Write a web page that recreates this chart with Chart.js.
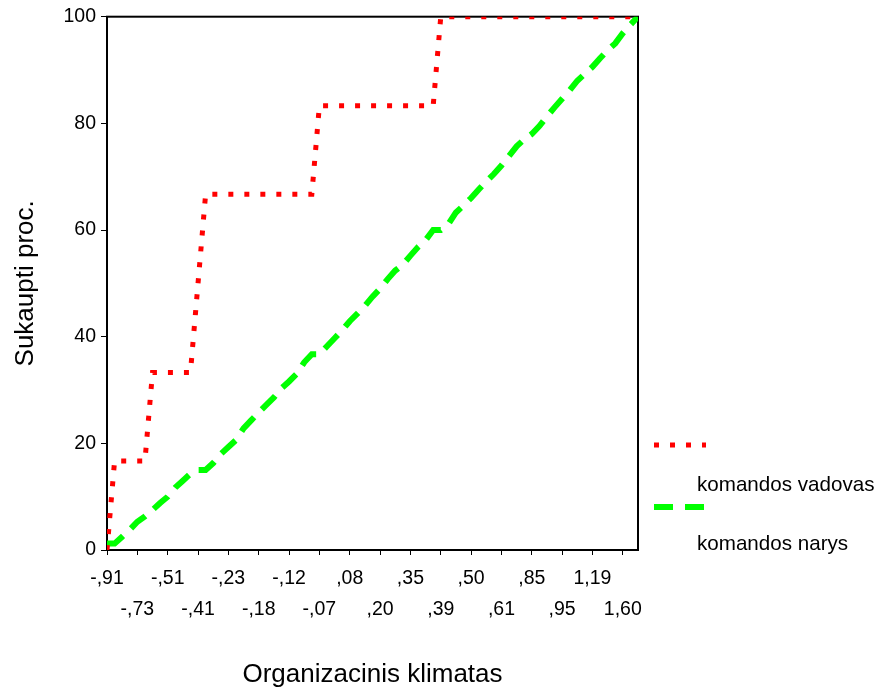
<!DOCTYPE html>
<html>
<head>
<meta charset="utf-8">
<script src="https://cdn.jsdelivr.net/npm/chart.js@4"></script>
<style>
    html, body { margin: 0; padding: 0; background: #fff; }
    #wrap { width: 879px; height: 691px; }
</style>
</head>
<body>
<div id="wrap"><canvas id="cumChart" width="879" height="691"></canvas></div>
<script>
// x axis tick labels (every 4th category is labelled)
const tickLabels = ['-,91', '-,73', '-,51', '-,41', '-,23', '-,18', '-,12', '-,07', ',08',
    ',20', ',35', ',39', ',50', ',61', ',85', ',95', '1,19', '1,60'];
const labelStep = 4;

const seriesNames = ['komandos vadovas', 'komandos narys'];

// cumulative percent per category position (0..70)
const leaders = [0, 16.7, 16.7, 16.7, 16.7, 16.7, 33.3, 33.3, 33.3, 33.3,
    33.3, 33.3, 50, 66.7, 66.7, 66.7, 66.7, 66.7, 66.7, 66.7,
    66.7, 66.7, 66.7, 66.7, 66.7, 66.7, 66.7, 66.7, 83.3, 83.3,
    83.3, 83.3, 83.3, 83.3, 83.3, 83.3, 83.3, 83.3, 83.3, 83.3,
    83.3, 83.3, 83.3, 83.3, 100, 100, 100, 100, 100, 100,
    100, 100, 100, 100, 100, 100, 100, 100, 100, 100,
    100, 100, 100, 100, 100, 100, 100, 100, 100, 100, 100];

const members = [1.2, 1.2, 2.5, 3.8, 5.3, 6.3, 7.5, 8.8, 10.0, 11.7,
    13.0, 14.3, 15.0, 15.0, 16.3, 18.0, 19.3, 20.6, 22.8, 24.3,
    25.8, 27.2, 28.6, 30.3, 31.6, 33.0, 35.2, 36.7, 36.7, 38.2,
    39.7, 41.2, 42.9, 44.3, 45.8, 47.5, 49.0, 50.8, 52.4, 53.5,
    55.2, 56.8, 58.1, 60.0, 60.0, 61.1, 63.3, 64.6, 66.0, 67.6,
    69.1, 70.5, 72.1, 73.9, 75.7, 77.0, 78.0, 79.5, 81.3, 83.0,
    84.6, 86.2, 88.0, 89.3, 90.6, 92.2, 93.7, 95.0, 96.9, 98.5, 100];

function toPoints(values) {
    return values.map((v, i) => ({ x: i, y: v }));
}

const fontFamily = 'Arial, "Liberation Sans", Helvetica, sans-serif';

const boxPlugin = {
    id: 'box',
    beforeDatasetsDraw(chart) {
        const a = chart.chartArea;
        const ctx = chart.ctx;
        ctx.save();
        ctx.strokeStyle = '#000';
        ctx.lineWidth = 2;
        ctx.strokeRect(a.left, a.top, a.right - a.left, a.bottom - a.top);
        ctx.restore();
    }
};

const legendPlugin = {
    id: 'sideLegend',
    afterDraw(chart) {
        const ctx = chart.ctx;
        const items = [
            { color: '#ff0000', dash: [5, 11], width: 5, y: 445, textY: 485 },
            { color: '#00ff00', dash: [19, 12], width: 6, y: 507, textY: 544 }
        ];
        ctx.save();
        items.forEach((it, k) => {
            ctx.beginPath();
            ctx.setLineDash(it.dash);
            ctx.lineCap = 'butt';
            ctx.strokeStyle = it.color;
            ctx.lineWidth = it.width;
            ctx.moveTo(654, it.y);
            ctx.lineTo(706, it.y);
            ctx.stroke();
            ctx.setLineDash([]);
            ctx.fillStyle = '#000';
            ctx.font = '20.6px ' + fontFamily;
            ctx.textBaseline = 'middle';
            ctx.textAlign = 'left';
            ctx.fillText(seriesNames[k], 697, it.textY);
        });
        ctx.restore();
    }
};

const ctx = document.getElementById('cumChart').getContext('2d');
const chart = new Chart(ctx, {
    type: 'line',
    data: {
        datasets: [{
            label: seriesNames[0],
            data: toPoints(leaders),
            borderColor: '#ff0000',
            borderWidth: 5,
            borderDash: [5, 11],
            borderCapStyle: 'butt',
            pointRadius: 0,
            tension: 0,
            fill: false
        }, {
            label: seriesNames[1],
            data: toPoints(members),
            borderColor: '#00ff00',
            borderWidth: 6,
            borderDash: [19, 11],
            borderCapStyle: 'butt',
            pointRadius: 0,
            tension: 0,
            fill: false
        }]
    },
    options: {
        responsive: false,
        animation: false,
        layout: {
            padding: { left: 0, top: 15, right: 241, bottom: 0 }
        },
        plugins: {
            legend: { display: false },
            tooltip: { enabled: false }
        },
        scales: {
            x: {
                type: 'linear',
                min: 0,
                max: leaders.length - 1,
                afterFit(scale) { scale.height = 141; },
                afterBuildTicks(scale) {
                    scale.ticks = tickLabels.map((_, k) => ({ value: k * labelStep }));
                },
                ticks: {
                    autoSkip: false,
                    maxRotation: 0,
                    minRotation: 0,
                    color: '#000',
                    padding: 8,
                    font: { family: fontFamily, size: 19.5, lineHeight: 1.6 },
                    callback(value) {
                        const k = Math.round(value / labelStep);
                        return k % 2 === 0 ? [tickLabels[k], ''] : ['', tickLabels[k]];
                    }
                },
                grid: { drawOnChartArea: false, drawTicks: true, tickLength: 5, color: '#000', lineWidth: 1 },
                border: { display: true, color: '#000', width: 2 },
                title: {
                    display: true,
                    text: 'Organizacinis klimatas',
                    color: '#000',
                    font: { family: fontFamily, size: 26 },
                    padding: { top: 0, bottom: 1 }
                }
            },
            y: {
                min: 0,
                max: 100,
                afterFit(scale) { scale.width = 107; },
                ticks: {
                    stepSize: 20,
                    color: '#000',
                    padding: 5,
                    font: { family: fontFamily, size: 19.5 }
                },
                grid: { drawOnChartArea: false, drawTicks: true, tickLength: 6, color: '#000', lineWidth: 1 },
                border: { display: true, color: '#000', width: 2 },
                title: {
                    display: true,
                    text: 'Sukaupti proc.',
                    color: '#000',
                    font: { family: fontFamily, size: 26 },
                    padding: { top: 10, bottom: 0 }
                }
            }
        }
    },
    plugins: [boxPlugin, legendPlugin]
});
</script>
</body>
</html>
